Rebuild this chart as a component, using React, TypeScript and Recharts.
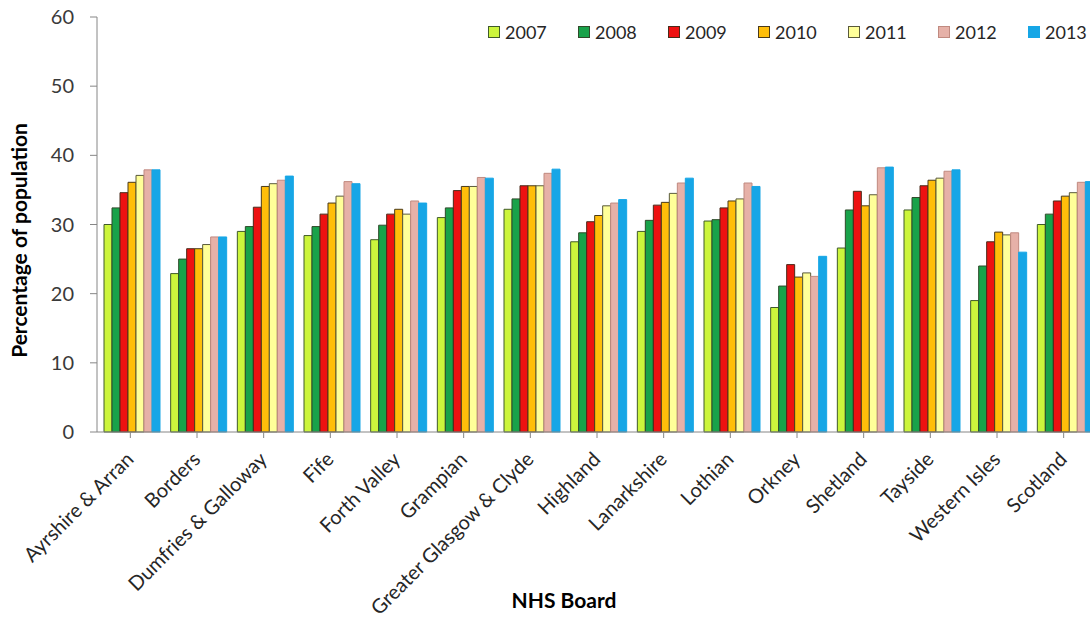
import React from 'react';
import { BarChart, Bar, XAxis, YAxis, Label } from 'recharts';

const boards = [
  'Ayrshire & Arran', 'Borders', 'Dumfries & Galloway', 'Fife', 'Forth Valley',
  'Grampian', 'Greater Glasgow & Clyde', 'Highland', 'Lanarkshire', 'Lothian',
  'Orkney', 'Shetland', 'Tayside', 'Western Isles', 'Scotland',
];

const years = ['2007', '2008', '2009', '2010', '2011', '2012', '2013'];

const v2007 = [30.0, 22.9, 29.0, 28.4, 27.8, 31.0, 32.2, 27.5, 29.0, 30.5, 18.0, 26.6, 32.1, 19.0, 30.0];
const v2008 = [32.4, 25.0, 29.7, 29.7, 29.9, 32.4, 33.7, 28.8, 30.6, 30.7, 21.1, 32.1, 33.9, 24.0, 31.5];
const v2009 = [34.6, 26.5, 32.5, 31.5, 31.5, 34.9, 35.6, 30.4, 32.8, 32.4, 24.2, 34.8, 35.6, 27.5, 33.4];
const v2010 = [36.1, 26.5, 35.5, 33.1, 32.2, 35.5, 35.6, 31.3, 33.2, 33.4, 22.4, 32.7, 36.4, 28.9, 34.1];
const v2011 = [37.1, 27.1, 35.9, 34.1, 31.5, 35.5, 35.6, 32.7, 34.5, 33.7, 23.0, 34.3, 36.7, 28.5, 34.6];
const v2012 = [37.9, 28.2, 36.4, 36.2, 33.4, 36.8, 37.4, 33.1, 36.0, 36.0, 22.5, 38.2, 37.7, 28.8, 36.1];
const v2013 = [37.9, 28.2, 37.0, 35.9, 33.1, 36.7, 38.0, 33.6, 36.7, 35.5, 25.4, 38.3, 37.9, 26.0, 36.2];

const series = [v2007, v2008, v2009, v2010, v2011, v2012, v2013];
const fills = ['#ccf53c', '#19a24a', '#ee1111', '#ffbe0a', '#ffff99', '#e6b1a8', '#16a6e6'];
const strokes = ['#3f5a2a', '#2f4a2a', '#4a2a1a', '#4a3a1a', '#5a5a3a', '#c08a80', '#16a6e6'];

const yTicks = [0, 10, 20, 30, 40, 50, 60];

const data = boards.map((name, i) => {
  const row: any = { name };
  years.forEach((y, k) => { row[y] = series[k][i]; });
  return row;
});

const font = 'Lato, "Open Sans", sans-serif';

// rotated category names, right end sits just under the tick
const XTick = ({ x, y, payload }: any) => (
  <g transform={`translate(${x - 6},${y + 10})`}>
    <text transform="rotate(-45)" textAnchor="end" dy="0.75em" fontSize={20} fill="#262626" fontFamily={font}>
      {payload.value}
    </text>
  </g>
);

const YearLegend = () => (
  <div style={{ position: 'absolute', left: 488, top: 21, display: 'flex', fontFamily: font, fontSize: 18, color: '#262626' }}>
    {years.map((y, k) => (
      <div key={y} style={{ display: 'flex', alignItems: 'center', width: k === 6 ? 'auto' : 90 }}>
        <span style={{ width: 10, height: 10, background: fills[k], border: `1px solid ${k === 6 ? fills[k] : strokes[k]}`, marginRight: 5 }} />
        <span>{y}</span>
      </div>
    ))}
  </div>
);

export default function App() {
  return (
    <div style={{ position: 'absolute', left: 0, top: 0, width: 1090, height: 632, overflow: 'hidden', background: '#fff' }}>
      <BarChart
        width={1100}
        height={632}
        data={data}
        margin={{ top: 17, right: 3, left: 0, bottom: 0 }}
        barGap={0}
        barCategoryGap="10.5%"
      >
        <XAxis
          dataKey="name"
          interval={0}
          height={200}
          tick={<XTick />}
          axisLine={{ stroke: '#868686' }}
          tickLine={{ stroke: '#868686' }}
          tickSize={6}
        >
          <Label value="NHS Board" position="insideBottom" offset={24} dx={-33} fontSize={21} fontWeight="bold" fill="#000" fontFamily={font} />
        </XAxis>
        <YAxis
          width={97}
          domain={[0, 60]}
          ticks={yTicks}
          axisLine={{ stroke: '#868686' }}
          tickLine={{ stroke: '#868686' }}
          tickSize={7}
          tickMargin={16}
          tick={{ fontSize: 20, fill: '#3a3a3a', fontFamily: font }}
        >
          <Label value="Percentage of population" angle={-90} position="insideLeft" offset={20} dy={16} fontSize={21} fontWeight="bold" fill="#000" fontFamily={font} style={{ textAnchor: 'middle' }} />
        </YAxis>
        {years.map((y, k) => (
          <Bar key={y} dataKey={y} fill={fills[k]} stroke={strokes[k]} strokeWidth={1} isAnimationActive={false} />
        ))}
      </BarChart>
      <YearLegend />
    </div>
  );
}
